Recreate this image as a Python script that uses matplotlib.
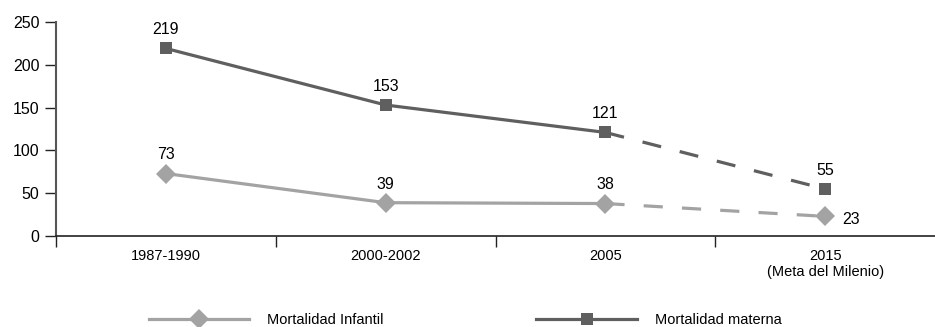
import matplotlib.pyplot as plt
from matplotlib import font_manager

periodos = ["1987-1990", "2000-2002", "2005", "2015\n(Meta del Milenio)"]
infantil = [73, 39, 38, 23]
materna = [219, 153, 121, 55]

# condensed face if available
names = {f.name for f in font_manager.fontManager.ttflist}
fam = "Liberation Sans Narrow" if "Liberation Sans Narrow" in names else "Liberation Sans"
plt.rcParams['font.family'] = [fam, 'DejaVu Sans']

OSCURO = "#5f5f5f"
CLARO = "#a3a3a3"

fig = plt.figure(figsize=(9.35, 3.27), dpi=100)
ax = fig.add_axes([0.06, 0.278, 0.94, 0.655])

x = list(range(len(periodos)))

def serie(vals, color, marker, ms, label):
    # solid for observed values, dashed towards the 2015 goal
    ax.plot(x[:3], vals[:3], color=color, lw=2.3, marker=marker, ms=ms,
            markeredgewidth=0, label=label, zorder=3)
    ax.plot(x[2:], vals[2:], color=color, lw=2.3, dashes=(6, 6),
            marker=marker, ms=ms, markevery=[1], markeredgewidth=0, zorder=3)

serie(infantil, CLARO, "D", 10, "Mortalidad Infantil")
serie(materna, OSCURO, "s", 9, "Mortalidad materna")

for i, v in enumerate(materna):
    ax.annotate(str(v), (i, v), xytext=(0, 8), textcoords="offset points",
                ha="center", va="bottom", fontsize=11.5)
for i, v in enumerate(infantil):
    if i == 3:
        ax.annotate(str(v), (i, v), xytext=(12, -2), textcoords="offset points",
                    ha="left", va="center", fontsize=11.5)
    else:
        ax.annotate(str(v), (i, v), xytext=(0, 8), textcoords="offset points",
                    ha="center", va="bottom", fontsize=11.5)

ax.set_xlim(-0.5, 3.5)
ax.set_ylim(0, 250)
ax.set_yticks(range(0, 251, 50))
ax.set_xticks([-0.5, 0.5, 1.5, 2.5])
ax.set_xticklabels([])
ax.set_xticks(x, minor=True)
ax.set_xticklabels(periodos, minor=True, fontsize=10.5)
ax.tick_params(axis="x", which="minor", length=0, pad=9)
ax.tick_params(axis="x", which="major", length=8, width=1, color="#222222", direction="out")
ax.tick_params(axis="y", length=8, width=1, labelsize=11.5, pad=4, color="#222222")

for s in ["top", "right"]:
    ax.spines[s].set_visible(False)
ax.spines["left"].set_color("#555555")
ax.spines["left"].set_linewidth(1.5)
ax.spines["bottom"].set_color("#222222")
ax.spines["bottom"].set_linewidth(1.2)

leg = fig.legend(loc="center left", bbox_to_anchor=(0.145, 0.02), ncol=2,
                 frameon=False, fontsize=10.5, handlelength=6.9, handletextpad=1.2,
                 columnspacing=10.5)

fig.savefig("out.png", dpi=100)
